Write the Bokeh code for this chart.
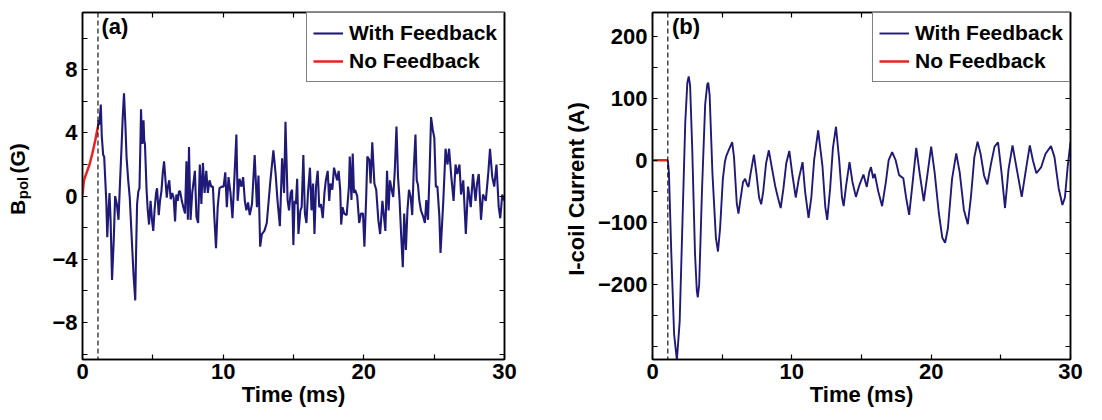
from math import pi
from bokeh.plotting import figure
from bokeh.layouts import row
from bokeh.models import (FixedTicker, LinearAxis, Span, Legend, LegendItem,
                          Label, Range1d)
from bokeh.core.properties import value
from bokeh.embed import file_html
from bokeh.resources import INLINE

# ---------------- data ----------------
# Panel (a): poloidal field B_pol (G)
a_red_t = [0.0, 0.1, 0.3, 0.5, 0.7, 0.9, 1.1]
a_red_y = [0.1, 1.0, 1.5, 2.0, 2.7, 3.5, 4.4]

a_blue_t = [
    1.10, 1.14, 1.18, 1.23, 1.30, 1.37, 1.47, 1.54, 1.69, 1.76, 1.82, 1.92, 2.00, 2.10,
    2.22, 2.32, 2.44, 2.56, 2.65, 2.77, 2.86, 2.95, 3.05, 3.13, 3.25, 3.36, 3.49, 3.63,
    3.75, 3.81, 3.88, 3.97, 4.05, 4.11, 4.16, 4.21, 4.26, 4.34, 4.39, 4.44, 4.55, 4.63,
    4.73, 4.84, 4.94, 5.03, 5.13, 5.23, 5.30, 5.42, 5.51, 5.61, 5.71, 5.80, 5.90, 5.99,
    6.07, 6.17, 6.27, 6.38, 6.48, 6.58, 6.67, 6.77, 6.86, 6.94, 7.06, 7.17, 7.29, 7.39,
    7.49, 7.57, 7.68, 7.80, 7.99, 8.10, 8.22, 8.34, 8.45, 8.56, 8.68, 8.80, 8.91, 9.03,
    9.15, 9.27, 9.37, 9.49, 9.61, 9.74, 9.91, 10.03, 10.15, 10.26, 10.38, 10.52, 10.66,
    10.77, 10.94, 11.03, 11.16, 11.30, 11.42, 11.54, 11.65, 11.77, 11.89, 12.05, 12.24,
    12.40, 12.51, 12.63, 12.75, 12.93, 13.10, 13.34, 13.57, 13.73, 13.86, 14.03, 14.19,
    14.33, 14.43, 14.58, 14.68, 14.80, 14.90, 14.99, 15.08, 15.17, 15.26, 15.35, 15.49,
    15.58, 15.70, 15.81, 15.92, 16.03, 16.17, 16.28, 16.39, 16.49, 16.60, 16.72, 16.83,
    16.95, 17.08, 17.20, 17.30, 17.43, 17.54, 17.63, 17.76, 17.88, 17.99, 18.10, 18.21,
    18.32, 18.39, 18.49, 18.60, 18.78, 18.94, 19.00, 19.12, 19.21, 19.30, 19.38, 19.53,
    19.67, 19.80, 19.94, 20.04, 20.16, 20.25, 20.39, 20.48, 20.60, 20.75, 20.88, 21.03,
    21.16, 21.32, 21.53, 21.65, 21.76, 21.86, 21.98, 22.09, 22.20, 22.32, 22.43, 22.54,
    22.65, 22.77, 22.87, 22.99, 23.10, 23.21, 23.33, 23.44, 23.55, 23.67, 23.76, 23.85,
    23.94, 24.06, 24.22, 24.34, 24.44, 24.56, 24.67, 24.78, 24.90, 25.01, 25.12, 25.23,
    25.37, 25.45, 25.65, 25.81, 25.95, 26.06, 26.22, 26.38, 26.52, 26.64, 26.80, 26.91,
    27.07, 27.25, 27.41, 27.60, 27.76, 27.94, 28.05, 28.17, 28.33, 28.47, 28.67, 28.85,
    28.97, 29.13, 29.27, 29.43, 29.59, 29.70, 29.84, 30.00]
a_blue_y = [
    4.4, 4.8, 4.5, 4.9, 5.8, 3.8, 2.6, 2.5, -0.3, -2.6, -1.4, 0.2, -1.6, -5.3,
    -2.8, 0.0, -0.5, -1.5, 0.5, 3.0, 5.0, 6.5, 4.5, 2.5, 1.0, -0.1, -2.5, -5.0,
    -6.6, -3.5, -0.5, 0.3, 0.5, 3.0, 5.5, 4.0, 3.3, 4.8, 3.5, 3.3, 0.5, -0.8,
    -1.8, -0.3, -1.5, -2.2, -0.8, 0.2, 0.5, -1.2, -0.3, 0.3, 1.5, 2.2, 1.0, -0.1,
    0.6, 1.0, -0.2, 0.2, -0.1, -1.6, 0.1, -0.3, 0.3, 0.3, -0.3, -0.7, -1.1, 2.2,
    -1.5, 3.1, -1.5, 0.2, 1.6, -1.3, -1.7, 2.0, -0.5, 2.1, 0.2, 1.6, 0.2, 1.0,
    0.6, 0.6, -1.3, -3.3, -0.7, 0.5, 0.6, 0.6, 1.5, -0.7, 1.2, 0.2, -1.4,
    0.6, 3.9, -0.3, 1.1, 0.6, 1.2, -0.3, -0.9, -0.4, -1.2, -0.5, 2.6,
    -0.7, 1.3, -3.2, -2.4, -2.2, -1.7, 0.8, 2.9, 1.4, -0.25, -1.9, 2.4,
    0.2, 4.7, -0.25, -0.9, 0.2, 0.4, -3.1, -0.3, -0.5, 1.1, -2.4, -0.9,
    -0.7, 2.6, -1.1, -1.7, 0.2, 1.8, -0.9, 0.8, -2.4, 0.6, 1.6, -0.7,
    -0.5, -1.4, 0.2, 1.0, 1.6, -0.3, 0.8, 0.4, 1.8, 1.4, 1.0, 1.6,
    0.4, -1.8, -0.7, -1.1, -1.2, 0.6, 2.5, -0.25, 2.7, 0.2, 0.4, 0.0,
    -1.7, -1.1, -1.1, -3.2, -0.25, 2.5, 2.3, 0.8, 3.4, 0.8, 0.4, -1.5,
    -2.4, -0.3, -2.2, 1.6, -0.9, 1.0, 0.4, -0.05, 1.6, 4.4, 1.2, -0.25,
    -2.4, -4.5, -1.1, -3.4, -0.9, 0.4, -0.05, -1.2, 1.7, 3.9, 1.0, 0.7,
    -0.25, -0.9, -1.3, -1.7, -0.25, -1.5, 1.4, 5.0, 4.2, 3.7, 0.6, 0.6,
    -1.3, -3.6, -0.3, 3.0, 2.0, 3.0, 1.2, -0.3, 2.0, 1.4, 2.0, 0.1,
    1.0, -2.4, 0.6, -0.7, 1.4, -0.3, 0.8, 1.4, -1.5, 0.1, -0.3, 1.5,
    3.0, 1.2, 0.6, 2.0, -0.7, -1.4, 0.1, -0.3]

# Panel (b): I-coil current (A)
b_red_t = [0.0, 1.1]
b_red_y = [0.0, 0.0]

b_blue_t = [
    1.10, 1.18, 1.35, 1.55, 1.75, 1.95, 2.15, 2.35, 2.50, 2.60, 2.70, 2.85, 3.05, 3.18,
    3.25, 3.35, 3.55, 3.78, 3.93, 4.00, 4.10, 4.30, 4.55, 4.70, 4.85, 5.05, 5.20, 5.30,
    5.50, 5.72, 5.85, 6.05, 6.17, 6.30, 6.50, 6.65, 6.80, 6.89, 7.05, 7.28, 7.45, 7.65,
    7.80, 7.95, 8.15, 8.35, 8.55, 8.80, 9.00, 9.20, 9.40, 9.60, 9.82, 10.05, 10.28,
    10.50, 10.77, 10.95, 11.20, 11.40, 11.60, 11.89, 12.20, 12.40, 12.54, 12.75, 12.95,
    13.17, 13.40, 13.60, 13.72, 13.90, 14.14, 14.35, 14.60, 14.85, 15.14, 15.38, 15.55,
    15.68, 15.84, 15.95, 16.20, 16.48, 16.75, 16.95, 17.20, 17.45, 17.70, 18.00, 18.20,
    18.42, 18.65, 18.93, 19.20, 19.47, 19.75, 20.00, 20.25, 20.55, 20.80, 21.00, 21.20,
    21.50, 21.80, 22.05, 22.35, 22.63, 22.85, 23.10, 23.33, 23.55, 23.80, 24.03, 24.30,
    24.55, 24.80, 25.05, 25.30, 25.55, 25.84, 26.15, 26.50, 26.80, 27.08, 27.30, 27.55,
    27.90, 28.20, 28.60, 28.85, 29.15, 29.42, 29.60, 29.80, 30.00]
b_blue_y = [
    0, -20, -150, -280, -322, -260, -100, 60, 125, 135, 120, 20, -150, -210,
    -221, -200, -50, 90, 122, 125, 105, -20, -125, -147, -110, -30, -2, 7,
    18, 29, 5, -70, -86, -65, -35, -30, -40, -43, -20, 9, -20, -60,
    -71, -50, -5, 16, -10, -41, -60, -77, -45, -5, 15, -25, -60,
    -30, -3, -50, -93, -60, 0, 48, -10, -75, -96, -45, 20,
    54, 0, -60, -74, -40, -3, -35, -59, -40, -23, -43, -20,
    -11, -29, -22, -50, -74, -35, 0, 13, 0, -24, -29, -60,
    -88, -40, 20, -25, -66, -20, 22, -20, -85, -125, -133, -110,
    -30, 11, -20, -80, -103, -60, 5, 30, 10, -25, -39, -5,
    22, 29, -20, -77, -15, 24, -15, -59, -15, 24, 0, -21,
    -11, 10, 23, 5, -45, -72, -60, -10, 29]

dash_time = 1.1

x_ticks = [0, 5, 10, 15, 20, 25, 30]
x_labels = {0: "0", 5: "", 10: "10", 15: "", 20: "20", 25: "", 30: "30"}
a_y_ticks = [-10, -8, -6, -4, -2, 0, 2, 4, 6, 8, 10]
a_y_labels = {-10: "", -8: "\u22128", -6: "", -4: "\u22124", -2: "", 0: "0",
              2: "", 4: "4", 6: "", 8: "8", 10: ""}
b_y_ticks = [-300, -250, -200, -150, -100, -50, 0, 50, 100, 150, 200]
b_y_labels = {-300: "", -250: "", -200: "\u2212200", -150: "", -100: "\u2212100",
              -50: "", 0: "0", 50: "", 100: "100", 150: "", 200: "200"}

# y-axis title of panel (a): B with subscript "pol", then "(G)"
a_title_main = ["B", "(G)"]
a_title_sub = ["pol"]

BLUE = "#1f1a78"
RED = "#e8231e"
FONT = "Liberation Sans"


def make_panel(width, height, xr, yr, borders, yticks, ylabels, ylabel_text):
    left, right, top, bottom = borders
    p = figure(width=width, height=height, x_range=Range1d(*xr), y_range=Range1d(*yr),
               output_backend="svg", toolbar_location=None,
               min_border_left=left, min_border_right=right,
               min_border_top=top, min_border_bottom=bottom)
    p.xgrid.visible = False
    p.ygrid.visible = False
    p.outline_line_color = "black"
    p.outline_line_width = 1.5
    p.background_fill_color = "white"
    p.border_fill_color = "white"

    for ax in (p.xaxis[0], p.yaxis[0]):
        ax.major_tick_in = 5
        ax.major_tick_out = 0
        ax.minor_tick_line_color = None
        ax.axis_line_width = 1.5
        ax.major_tick_line_width = 1.2
        ax.major_label_text_font = FONT
        ax.major_label_text_font_style = "bold"
        ax.major_label_text_font_size = "22px"
        ax.major_label_text_color = "black"
        ax.axis_label_text_font = FONT
        ax.axis_label_text_font_style = "bold"
        ax.axis_label_text_font_size = "22px"
        ax.axis_label_text_color = "black"

    p.xaxis[0].ticker = FixedTicker(ticks=x_ticks)
    p.xaxis[0].major_label_overrides = x_labels
    p.xaxis[0].major_label_standoff = 4
    p.xaxis[0].axis_label = "Time (ms)"
    p.xaxis[0].axis_label_standoff = 0

    p.yaxis[0].ticker = FixedTicker(ticks=yticks)
    p.yaxis[0].major_label_overrides = ylabels
    p.yaxis[0].major_label_standoff = 5
    if ylabel_text:
        p.yaxis[0].axis_label = ylabel_text
        p.yaxis[0].axis_label_standoff = 6

    # mirrored tick marks on the top and right edges (no labels)
    top_ax = LinearAxis(ticker=FixedTicker(ticks=x_ticks), major_tick_in=5, major_tick_out=0,
                        major_label_text_alpha=0, major_label_text_font_size="1px",
                        major_label_standoff=0,
                        minor_tick_line_color=None, axis_line_width=1.5,
                        major_tick_line_width=1.2)
    right_ax = LinearAxis(ticker=FixedTicker(ticks=yticks), major_tick_in=5, major_tick_out=0,
                          major_label_text_alpha=0, major_label_text_font_size="1px",
                          major_label_standoff=0,
                          minor_tick_line_color=None, axis_line_width=1.5,
                          major_tick_line_width=1.2)
    p.add_layout(top_ax, "above")
    p.add_layout(right_ax, "right")

    p.add_layout(Span(location=dash_time, dimension="height", line_color="black",
                      line_width=1.1, line_dash="5 3"))
    return p


def add_legend(p, r_blue, r_red):
    legend = Legend(items=[LegendItem(label="With Feedback", renderers=[r_blue]),
                           LegendItem(label="No Feedback", renderers=[r_red])],
                    location="top_right", margin=0, padding=6, spacing=0,
                    glyph_width=30, glyph_height=28, label_height=28,
                    label_standoff=6,
                    label_text_font=FONT, label_text_font_style="bold",
                    label_text_font_size="21px", label_text_color="black",
                    border_line_color="black", border_line_width=1.3,
                    background_fill_color="white", background_fill_alpha=1.0)
    p.add_layout(legend)


# ---------------- y title strip for panel (a) ----------------
strip = figure(width=42, height=420, x_range=Range1d(0, 42), y_range=Range1d(0, 420),
               output_backend="svg", toolbar_location=None,
               x_axis_type=None, y_axis_type=None,
               min_border_left=0, min_border_right=0, min_border_top=0, min_border_bottom=0)
strip.outline_line_color = None
strip.xgrid.visible = False
strip.ygrid.visible = False
strip.border_fill_color = "white"
strip.background_fill_color = "white"
strip.text(x=[17, 17], y=[175, 225], text=a_title_main, angle=pi / 2,
           text_font=value(FONT), text_font_style="bold", text_font_size="21px",
           text_baseline="alphabetic", text_align="left", text_color="black")
strip.text(x=[22], y=[194], text=a_title_sub, angle=pi / 2,
           text_font=value(FONT), text_font_style="bold", text_font_size="15px",
           text_baseline="alphabetic", text_align="left", text_color="black")

# ---------------- panel (a) ----------------
pa = make_panel(518, 420, (0, 30), (-10.34, 11.62), (40, 56, 12, 61),
                a_y_ticks, a_y_labels, "")
ra_red = pa.line(a_red_t, a_red_y, line_color=RED, line_width=2.5)
ra_blue = pa.line(a_blue_t, a_blue_y, line_color=BLUE, line_width=2.1)
add_legend(pa, ra_blue, ra_red)
pa.add_layout(Label(x=1.35, y=11.5, text="(a)", text_font=FONT, text_font_style="bold",
                    text_font_size="22px", text_baseline="top", text_align="left",
                    text_color="black"))

# ---------------- panel (b) ----------------
pb = make_panel(542, 420, (0, 30), (-321, 238), (84, 32, 9, 61),
                b_y_ticks, b_y_labels, "I-coil Current  (A)")
rb_red = pb.line(b_red_t, b_red_y, line_color=RED, line_width=2.5)
rb_blue = pb.line(b_blue_t, b_blue_y, line_color=BLUE, line_width=1.9)
add_legend(pb, rb_blue, rb_red)
pb.add_layout(Label(x=1.4, y=235, text="(b)", text_font=FONT, text_font_style="bold",
                    text_font_size="22px", text_baseline="top", text_align="left",
                    text_color="black"))

layout = row(strip, pa, pb, spacing=0)
open("out.html", "w").write(file_html(layout, INLINE))
